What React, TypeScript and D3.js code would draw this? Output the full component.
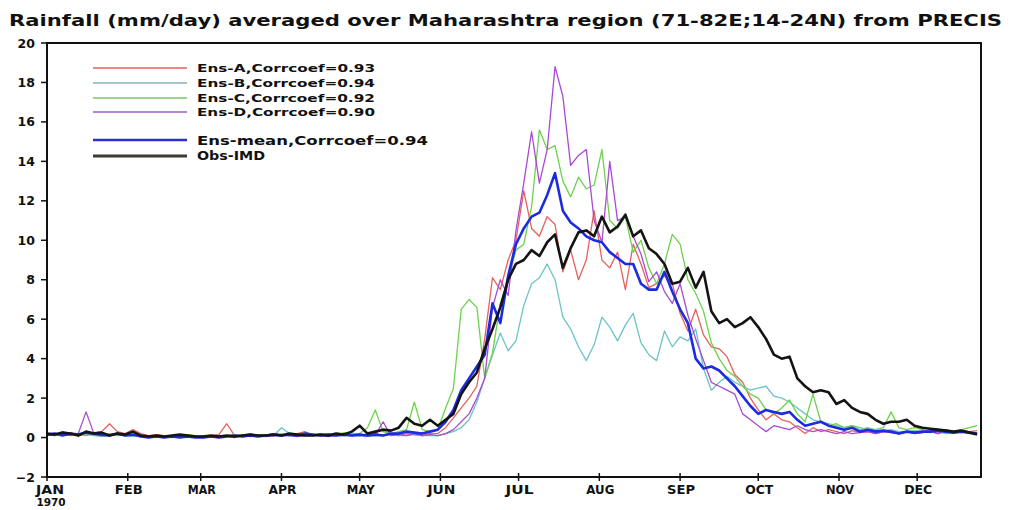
import React from "react";
import * as d3 from "d3";

// ---------- data (values every 3 days, day 0 = 1 Jan 1970) ----------
const STEP = 3;
const monthNames = ["JAN", "FEB", "MAR", "APR", "MAY", "JUN", "JUL", "AUG", "SEP", "OCT", "NOV", "DEC"];
const monthStartDays = [0, 31, 59, 90, 120, 151, 181, 212, 243, 273, 304, 334];
const yTicks = [-2, 0, 2, 4, 6, 8, 10, 12, 14, 16, 18, 20];

const ensA = [
  0.2, 0.1, 0.3, 0.15, 0.2, 0.1, 0.25, 0.3, 0.7, 0.3, 0.2, 0.4, 0.2, 0.1, 0.15, 0.1, 0.05, 0.1, 0.05, 0.1,
  0.05, 0.1, 0.15, 0.7, 0.1, 0.05, 0.1, 0.15, 0.1, 0.2, 0.15, 0.1, 0.2, 0.3, 0.1, 0.2, 0.15, 0.1, 0.2, 0.15,
  0.1, 0.15, 0.2, 0.1, 0.15, 0.1, 0.2, 0.15, 0.1, 0.2,
  0.2, 0.5, 1.0, 1.5, 2.0, 2.6, 5.0, 8.1, 7.5, 9.0,
  10.0, 12.5, 10.6, 10.2, 11.2, 10.8, 8.4, 9.5, 8.0, 9.0,
  11.5, 9.0, 8.6, 9.4, 7.5, 9.8, 8.8, 7.6, 7.8, 8.2,
  7.8, 6.3, 5.4, 6.5, 5.2, 4.6, 4.5, 4.1, 3.2, 2.8,
  2.0, 1.4, 0.9, 1.2, 0.9, 0.8, 0.5, 0.2, 0.5, 0.3,
  0.4, 0.3, 0.2, 0.35, 0.25, 0.3, 0.2, 0.3, 0.25, 0.2,
  0.3, 0.2, 0.25, 0.3, 0.2, 0.3, 0.25, 0.4, 0.3, 0.35,
];

const ensB = [
  0.1, 0.15, 0.1, 0.2, 0.1, 0.15, 0.1, 0.05, 0.1, 0.15, 0.1, 0.05, 0.1, 0.05, 0.0, 0.05, 0.1, 0.05, 0.0, 0.05,
  0.1, 0.05, 0.1, 0.05, 0.1, 0.15, 0.1, 0.1, 0.15, 0.1, 0.5, 0.2, 0.1, 0.15, 0.1, 0.2, 0.1, 0.15, 0.1, 0.1,
  0.1, 0.05, 0.1, 0.1, 0.15, 0.1, 0.1, 0.15, 0.1, 0.1,
  0.1, 0.2, 0.3, 0.5, 0.9, 1.8, 3.0, 4.2, 5.3, 4.4,
  4.9, 6.7, 7.8, 8.1, 8.8, 8.0, 6.1, 5.5, 4.6, 3.9,
  4.7, 6.1, 5.6, 4.9, 5.7, 6.3, 4.8, 4.2, 3.9, 5.4,
  4.6, 5.1, 4.9, 5.5, 3.5, 2.4, 2.8, 3.1, 2.8, 2.6,
  2.4, 2.5, 2.6, 2.1, 2.0, 1.8, 1.5, 1.2, 0.9, 0.8,
  0.7, 0.6, 0.5, 0.6, 0.4, 0.5, 0.4, 0.3, 0.4, 0.3,
  0.3, 0.35, 0.3, 0.25, 0.3, 0.2, 0.25, 0.3, 0.2, 0.25,
];

const ensC = [
  0.2, 0.1, 0.15, 0.2, 0.1, 0.2, 0.15, 0.1, 0.2, 0.1, 0.15, 0.1, 0.05, 0.1, 0.05, 0.1, 0.05, 0.1, 0.15, 0.1,
  0.05, 0.1, 0.05, 0.1, 0.15, 0.1, 0.2, 0.1, 0.15, 0.1, 0.2, 0.1, 0.15, 0.2, 0.1, 0.15, 0.2, 0.1, 0.25, 0.2,
  0.2, 0.5, 1.4, 0.3, 0.2, 0.3, 0.4, 1.8, 0.4, 0.3,
  0.4, 1.5, 2.5, 6.5, 7.0, 6.6, 3.0, 4.3, 6.8, 8.0,
  9.5, 9.8, 11.7, 15.6, 14.6, 14.8, 13.0, 12.2, 13.2, 12.6,
  12.8, 14.6, 11.0, 10.6, 11.2, 9.4, 10.0, 8.6, 7.8, 8.8,
  10.3, 9.8, 8.0, 7.3, 6.4, 4.8, 4.0, 3.4, 3.1, 2.6,
  2.2, 2.0, 1.4, 1.2, 1.5, 1.9, 1.2, 0.8, 2.2, 0.8,
  0.6, 0.7, 0.5, 0.6, 0.5, 0.4, 0.4, 0.5, 1.3, 0.5,
  0.4, 0.5, 0.4, 0.3, 0.4, 0.35, 0.3, 0.4, 0.5, 0.6,
];

const ensD = [
  0.1, 0.2, 0.15, 0.1, 0.2, 1.3, 0.2, 0.1, 0.15, 0.2, 0.1, 0.15, 0.1, 0.05, 0.1, 0.05, 0.0, 0.05, 0.1, 0.05,
  0.0, 0.05, 0.1, 0.05, 0.0, 0.1, 0.05, 0.1, 0.05, 0.1, 0.15, 0.1, 0.05, 0.1, 0.15, 0.1, 0.05, 0.1, 0.15, 0.1,
  0.1, 0.15, 0.1, 0.8, 0.1, 0.15, 0.1, 0.2, 0.1, 0.15,
  0.1, 0.2, 0.4, 0.8, 1.2, 2.0, 3.0, 6.6, 8.0, 7.2,
  10.5, 12.9, 15.5, 12.9, 14.6, 18.8, 17.3, 13.8, 14.3, 14.6,
  11.0, 9.9, 14.0, 11.0, 11.2, 10.2, 9.3, 7.9, 8.4, 7.4,
  6.8, 7.8, 6.2, 5.0, 3.9, 2.8, 2.6, 2.4, 2.2, 1.2,
  0.9, 0.6, 0.3, 0.6, 0.5, 0.4, 0.6, 0.4, 0.3, 0.4,
  0.3, 0.2, 0.3, 0.2, 0.25, 0.3, 0.2, 0.3, 0.25, 0.2,
  0.3, 0.2, 0.25, 0.35, 0.2, 0.4, 0.3, 0.25, 0.3, 0.2,
];

const ensMean = [
  0.15, 0.2, 0.1, 0.2, 0.15, 0.25, 0.2, 0.15, 0.1, 0.2, 0.1, 0.15, 0.05, 0.0, 0.05, 0.0, 0.05, 0.0, 0.05, 0.0,
  0.0, 0.05, 0.0, 0.05, 0.1, 0.05, 0.1, 0.05, 0.1, 0.15, 0.1, 0.15, 0.1, 0.2, 0.15, 0.1, 0.15, 0.1, 0.15, 0.1,
  0.15, 0.1, 0.15, 0.1, 0.2, 0.2, 0.3, 0.25, 0.2, 0.3,
  0.4, 0.8, 1.4, 2.4, 3.0, 3.6, 4.2, 6.8, 5.8, 8.2,
  9.8, 10.6, 11.2, 11.4, 12.3, 13.4, 11.5, 10.9, 10.6, 10.2,
  10.0, 9.9, 9.4, 9.1, 8.8, 8.8, 7.8, 7.5, 7.5, 8.4,
  7.4, 6.5, 5.8, 4.0, 3.5, 3.6, 3.4, 3.0, 2.6, 2.1,
  1.6, 1.2, 1.4, 1.3, 1.2, 1.3, 0.9, 0.6, 0.7, 0.8,
  0.6, 0.5, 0.4, 0.5, 0.3, 0.4, 0.3, 0.35, 0.3, 0.2,
  0.3, 0.25, 0.3, 0.3, 0.35, 0.3, 0.25, 0.3, 0.25, 0.2,
];

const obsIMD = [
  0.2, 0.15, 0.25, 0.2, 0.1, 0.3, 0.2, 0.25, 0.1, 0.2, 0.15, 0.3, 0.1, 0.05, 0.1, 0.05, 0.1, 0.15, 0.1, 0.05,
  0.05, 0.1, 0.05, 0.1, 0.05, 0.1, 0.15, 0.1, 0.1, 0.15, 0.1, 0.2, 0.15, 0.1, 0.1, 0.15, 0.1, 0.2, 0.15, 0.3,
  0.6, 0.2, 0.3, 0.4, 0.35, 0.5, 1.0, 0.7, 0.6, 0.9,
  0.6, 0.9, 1.2, 2.2, 2.8, 3.3, 4.5, 5.5, 6.6, 8.0,
  8.8, 9.0, 9.5, 9.2, 9.9, 10.3, 8.6, 9.6, 10.4, 10.5,
  10.2, 11.2, 10.4, 10.7, 11.3, 10.2, 10.5, 9.6, 9.3, 8.8,
  7.8, 7.9, 8.6, 7.6, 8.4, 6.4, 5.8, 6.0, 5.6, 5.8,
  6.1, 5.6, 5.0, 4.2, 4.0, 4.1, 3.0, 2.6, 2.3, 2.4,
  2.3, 1.7, 1.9, 1.5, 1.3, 1.2, 0.9, 0.7, 0.8, 0.8,
  0.9, 0.6, 0.5, 0.45, 0.4, 0.35, 0.3, 0.35, 0.25, 0.15,
];

const seriesLabels = [
  "Ens-A,Corrcoef=0.93",
  "Ens-B,Corrcoef=0.94",
  "Ens-C,Corrcoef=0.92",
  "Ens-D,Corrcoef=0.90",
  "Ens-mean,Corrcoef=0.94",
  "Obs-IMD",
];
const seriesValues = [ensA, ensB, ensC, ensD, ensMean, obsIMD];
const seriesColors = ["#e4615c", "#6cc3c8", "#6dd24c", "#a84ad2", "#1c2be0", "#141414"];
const legendColors = ["#e4615c", "#7fb8bd", "#84c46a", "#9a62c8", "#2830d0", "#3a3d30"];

const titleText = "Rainfall (mm/day) averaged over Maharashtra region (71-82E;14-24N) from PRECIS";

// ---------- layout ----------
const W = 1010;
const H = 510;
const L = 47, R = 981, T = 43, B = 477;
const FONT = "'DejaVu Sans', 'Liberation Sans', sans-serif";

export default function App() {
  const x = d3.scaleLinear().domain([0, 358.5]).range([L, R]);
  const y = d3.scaleLinear().domain([-2, 20]).range([B, T]);
  const line = d3
    .line<number>()
    .x((_, i) => x(i * STEP))
    .y((v) => y(v));

  const widths = [1.3, 1.3, 1.3, 1.3, 2.6, 2.6];
  const legendY = [68, 83, 98, 112, 140, 156];
  const legendLen = [178, 178, 178, 178, 231, 68];
  const legendSize = [11, 11, 11, 11, 13, 12];
  const legendLW = [1.5, 1.5, 1.5, 1.5, 2.6, 2.8];

  return (
    <svg
      width={W}
      height={H}
      style={{ position: "absolute", left: 0, top: 0, background: "#fff" }}
      fontFamily={FONT}
    >
      <rect x={0} y={0} width={W} height={H} fill="#fff" />
      <defs>
        <clipPath id="plotClip">
          <rect x={L} y={T} width={R - L} height={B - T} />
        </clipPath>
      </defs>

      <text
        x={9}
        y={26}
        fontSize={15}
        fontWeight="bold"
        textLength={993}
        lengthAdjust="spacingAndGlyphs"
        fill="#111"
      >
        {titleText}
      </text>

      {/* series */}
      <g clipPath="url(#plotClip)" fill="none" strokeLinejoin="round">
        {seriesValues.map((vals, k) => (
          <path key={k} d={line(vals) || ""} stroke={seriesColors[k]} strokeWidth={widths[k]} />
        ))}
      </g>

      {/* frame */}
      <rect x={L} y={T} width={R - L} height={B - T} fill="none" stroke="#111" strokeWidth={2} />

      {/* y axis */}
      {yTicks.map((t) => (
        <g key={t}>
          <line x1={L - 6} x2={L} y1={y(t)} y2={y(t)} stroke="#111" strokeWidth={1.5} />
          <text
            x={35}
            y={y(t)}
            dy="0.36em"
            textAnchor="end"
            fontSize={12.5}
            fontWeight="bold"
            fill="#111"
          >
            {t === -2 ? "\u22122" : String(t)}
          </text>
        </g>
      ))}

      {/* x axis */}
      {monthNames.map((name, i) => (
        <g key={name}>
          <line
            x1={x(monthStartDays[i])}
            x2={x(monthStartDays[i])}
            y1={B - 4}
            y2={B + 4}
            stroke="#111"
            strokeWidth={1.5}
          />
          <text
            x={i === 0 ? x(monthStartDays[i]) + 3 : x(monthStartDays[i]) + 1}
            y={494}
            textAnchor="middle"
            fontSize={12}
            fontWeight="bold"
            fill="#111"
            textLength={28}
            lengthAdjust="spacingAndGlyphs"
          >
            {name}
          </text>
        </g>
      ))}
      <text x={x(0) + 4} y={506} textAnchor="middle" fontSize={10.5} fontWeight="bold" fill="#111">
        1970
      </text>

      {/* legend */}
      {seriesLabels.map((lab, k) => (
        <g key={lab}>
          <line
            x1={93}
            x2={187}
            y1={legendY[k]}
            y2={legendY[k]}
            stroke={legendColors[k]}
            strokeWidth={legendLW[k]}
          />
          <text
            x={197}
            y={legendY[k]}
            dy="0.36em"
            fontSize={legendSize[k]}
            fontWeight="bold"
            fill="#111"
            textLength={legendLen[k]}
            lengthAdjust="spacingAndGlyphs"
          >
            {lab}
          </text>
        </g>
      ))}
    </svg>
  );
}
